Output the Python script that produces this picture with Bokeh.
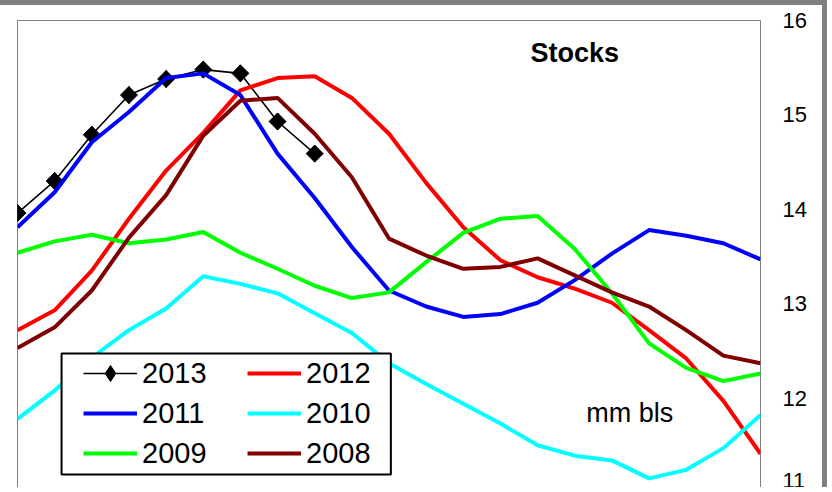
import numpy as np
from bokeh.plotting import figure
from bokeh.models import Range1d, FixedTicker, Label, BoxAnnotation
from bokeh.embed import file_html
from bokeh.resources import INLINE

weeks = list(range(21))
weeks_2013 = list(range(9))
s2013 = [13.96, 14.30, 14.79, 15.21, 15.38, 15.48, 15.44, 14.93, 14.59]
s2012 = [12.72, 12.93, 13.35, 13.90, 14.41, 14.81, 15.26, 15.39, 15.41, 15.18, 14.80,
         14.28, 13.81, 13.46, 13.28, 13.16, 13.01, 12.72, 12.42, 11.97, 11.41]
s2011 = [13.81, 14.18, 14.71, 15.03, 15.39, 15.44, 15.21, 14.59, 14.12, 13.60, 13.14,
         12.97, 12.86, 12.89, 13.01, 13.25, 13.53, 13.78, 13.72, 13.64, 13.47]
s2010 = [11.78, 12.08, 12.43, 12.72, 12.95, 13.29, 13.21, 13.11, 12.90, 12.69, 12.37,
         12.15, 11.94, 11.73, 11.50, 11.39, 11.34, 11.15, 11.24, 11.47, 11.82]
s2009 = [13.54, 13.66, 13.73, 13.64, 13.68, 13.76, 13.54, 13.37, 13.19, 13.06, 13.12,
         13.44, 13.75, 13.90, 13.93, 13.58, 13.11, 12.58, 12.32, 12.18, 12.26]
s2008 = [12.53, 12.75, 13.14, 13.70, 14.15, 14.78, 15.15, 15.18, 14.80, 14.34, 13.69,
         13.51, 13.37, 13.39, 13.48, 13.30, 13.12, 12.97, 12.72, 12.45, 12.37]
y_ticks = [11, 12, 13, 14, 15, 16]
title_text = "Stocks"
unit_text = "mm  bls"

FONT = "Liberation Sans"

p = figure(width=827, height=487, output_backend="svg", toolbar_location=None,
           x_range=Range1d(0, 20), y_range=Range1d(11.0, 16),
           x_axis_location=None, y_axis_location="right",
           min_border_left=17, min_border_top=15, min_border_bottom=0, min_border_right=67)
p.styles = {"border-top": "5px solid #808080", "border-right": "5px solid #808080"}
p.outline_line_color = "#808080"
p.outline_line_width = 1
p.grid.visible = False
p.background_fill_color = "white"
p.border_fill_color = "white"

ax = p.yaxis[0]
ax.ticker = FixedTicker(ticks=y_ticks)
ax.axis_line_color = None
ax.major_tick_line_color = None
ax.minor_tick_line_color = None
ax.major_tick_in = 0
ax.major_tick_out = 0
ax.major_label_standoff = 22
ax.major_label_text_font = FONT
ax.major_label_text_font_size = "22px"
ax.major_label_text_color = "black"

box = BoxAnnotation(left=1.186, right=10.05, top=12.472, bottom=11.19,
                    fill_color="white", fill_alpha=1.0, line_color="black",
                    line_alpha=1.0, line_width=2)
p.add_layout(box)

p.line(weeks_2013, s2013, line_color="black", line_width=1.6, legend_label="2013")
p.scatter(weeks_2013, s2013, marker="diamond", size=17, fill_color="black",
          line_color="black", legend_label="2013")
p.scatter(weeks_2013, s2013, marker="square", angle=np.pi / 4, size=12,
          fill_color="black", line_color="black")
p.line(weeks, s2012, line_color="#FF0000", line_width=4, legend_label="2012")
p.line(weeks, s2011, line_color="#0000FF", line_width=4, legend_label="2011")
p.line(weeks, s2010, line_color="#00FFFF", line_width=4, legend_label="2010")
p.line(weeks, s2009, line_color="#00FF00", line_width=4, legend_label="2009")
p.line(weeks, s2008, line_color="#800000", line_width=4, legend_label="2008")

lg = p.legend[0]
lg.orientation = "horizontal"
lg.ncols = 2
lg.location = (66, 19)
lg.padding = 0
lg.margin = 0
lg.spacing = 0
lg.glyph_width = 54
lg.glyph_height = 40
lg.label_height = 40
lg.label_width = 105
lg.label_standoff = 5
lg.label_text_font = FONT
lg.label_text_font_size = "29px"
lg.label_text_baseline = "middle"
lg.label_text_color = "black"
lg.background_fill_alpha = 0
lg.border_line_color = None

p.add_layout(Label(x=15.0, y=15.66, text=title_text, text_font=FONT, text_font_size="27px",
                   text_font_style="bold", text_align="center", text_baseline="middle",
                   text_color="black"))
p.add_layout(Label(x=16.58, y=11.84, text=unit_text, text_font=FONT, text_font_size="27px",
                   text_align="center", text_baseline="middle", text_color="black"))

open("out.html", "w").write(file_html(p, INLINE))
